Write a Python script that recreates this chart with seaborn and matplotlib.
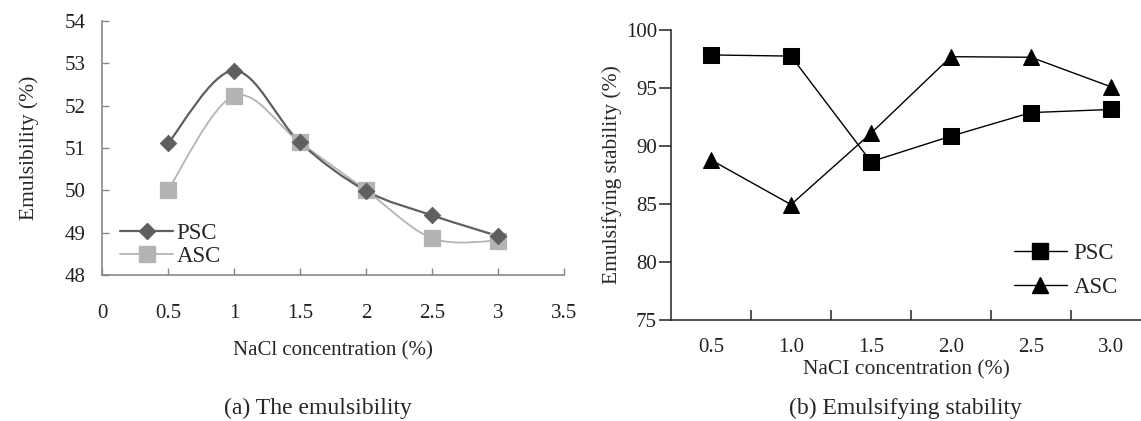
import numpy as np
import pandas as pd
import matplotlib
matplotlib.use("Agg")
import matplotlib.pyplot as plt
import seaborn as sns
from matplotlib.path import Path
from matplotlib.patches import PathPatch
from matplotlib.lines import Line2D

# data
nacl = [0.5, 1.0, 1.5, 2.0, 2.5, 3.0]
emul_psc = [51.11, 52.83, 51.13, 49.99, 49.41, 48.92]
emul_asc = [50.01, 52.23, 51.13, 50.00, 48.87, 48.81]
stab_psc = [97.85, 97.75, 88.65, 90.85, 92.88, 93.15]
stab_asc = [88.80, 84.95, 91.10, 97.70, 97.65, 95.10]
left_xticks = [0, 0.5, 1, 1.5, 2, 2.5, 3, 3.5]
left_xlabels = ["0", "0.5", "1", "1.5", "2", "2.5", "3", "3.5"]
right_xlabels = ["0.5", "1.0", "1.5", "2.0", "2.5", "3.0"]

sns.set_style("white")
plt.rcParams["font.family"] = ["Liberation Serif", "DejaVu Serif"]


def smooth_path(xs, ys):
    # excel-like smoothed line: cubic bezier through each point
    p = np.column_stack([xs, ys])
    n = len(p)
    verts = [p[0]]
    codes = [Path.MOVETO]
    for i in range(n - 1):
        p0 = p[i - 1] if i > 0 else p[i]
        p3 = p[i + 2] if i + 2 < n else p[i + 1]
        c1 = p[i] + (p[i + 1] - p0) / 6.0
        c2 = p[i + 1] - (p3 - p[i]) / 6.0
        verts += [c1, c2, p[i + 1]]
        codes += [Path.CURVE4] * 3
    return Path(verts, codes)


fig = plt.figure(figsize=(11.41, 4.21), dpi=100)

# ---- (a) emulsibility
ax1 = fig.add_axes([102 / 1141, 146 / 421, 462 / 1141, 254 / 421])
c_psc, c_asc = "#5f5f5f", "#b4b4b4"
ax1.add_patch(PathPatch(smooth_path(nacl, emul_asc), fill=False, ec=c_asc, lw=1.3, zorder=2))
ax1.add_patch(PathPatch(smooth_path(nacl, emul_psc), fill=False, ec=c_psc, lw=1.6, zorder=3))
sns.scatterplot(x=nacl, y=emul_asc, ax=ax1, marker="s", s=130, color=c_asc, edgecolor=c_asc, zorder=4)
sns.scatterplot(x=nacl, y=emul_psc, ax=ax1, marker="D", s=70, color=c_psc, edgecolor=c_psc, zorder=5)
ax1.set_xlim(0, 3.5)
ax1.set_ylim(48, 54)
ax1.set_xticks(left_xticks)
ax1.set_xticklabels(left_xlabels)
ax1.set_yticks(range(48, 55))
sns.despine(ax=ax1)
for s in ["left", "bottom"]:
    ax1.spines[s].set_color("#878787")
    ax1.spines[s].set_linewidth(1.2)
ax1.tick_params(axis="both", direction="in", length=5, width=1, color="#878787",
                labelsize=15, labelcolor="#222222", bottom=True, left=True)
ax1.tick_params(axis="x", pad=21)
ax1.tick_params(axis="y", pad=12)
ax1.set_xlabel("NaCl concentration (%)", fontsize=15, labelpad=13)
ax1.set_ylabel("Emulsibility (%)", fontsize=15.5, labelpad=18)
h1 = [Line2D([], [], color=c_psc, lw=1.6, marker="D", ms=8, label="PSC"),
      Line2D([], [], color=c_asc, lw=1.3, marker="s", ms=11, label="ASC")]
ax1.legend(handles=h1, loc="lower left", bbox_to_anchor=(0.02, -0.005), frameon=False,
           fontsize=16.5, handlelength=2.3, handletextpad=0.15, labelspacing=0.1, borderaxespad=0)

# ---- (b) emulsifying stability
df = pd.DataFrame({
    "nacl": nacl * 2,
    "stab": stab_psc + stab_asc,
    "sample": ["PSC"] * len(nacl) + ["ASC"] * len(nacl),
})
ax2 = fig.add_axes([671 / 1141, 101 / 421, 470 / 1141, 290 / 421])
sns.lineplot(data=df, x="nacl", y="stab", hue="sample", style="sample", ax=ax2,
             palette={"PSC": "black", "ASC": "black"}, markers={"PSC": "s", "ASC": "^"},
             dashes=False, lw=1, markersize=11, markeredgecolor="black", legend=False)
ax2.set_xlim(0.25, 0.25 + 5.875 * 0.5)
ax2.set_ylim(75, 100)
ax2.set_xticks([0.75, 1.25, 1.75, 2.25, 2.75])
ax2.set_xticklabels([])
ax2.set_xticks(nacl, minor=True)
ax2.set_xticklabels(right_xlabels, minor=True)
ax2.set_yticks(range(75, 101, 5))
sns.despine(ax=ax2)
for s in ["left", "bottom"]:
    ax2.spines[s].set_color("#222222")
    ax2.spines[s].set_linewidth(1.1)
ax2.tick_params(axis="x", which="major", direction="in", length=7, width=1.1, color="#222222",
                bottom=True)
ax2.tick_params(axis="x", which="minor", length=0, pad=13, labelsize=15, labelcolor="#222222")
ax2.tick_params(axis="y", direction="out", length=9, width=1.1, color="#222222",
                labelsize=15, labelcolor="#222222", pad=1, left=True)
ax2.set_xlabel("NaCI concentration (%)", fontsize=15.5, labelpad=2)
ax2.set_ylabel("Emulsifying stability (%)", fontsize=15.5, labelpad=3)
h2 = [Line2D([], [], color="black", lw=1, marker="s", ms=11, label="PSC"),
      Line2D([], [], color="black", lw=1, marker="^", ms=12, label="ASC")]
ax2.legend(handles=h2, loc="lower right", bbox_to_anchor=(0.97, 0.045), frameon=False,
           fontsize=16.5, handlelength=2.3, handletextpad=0.3, labelspacing=0.55, borderaxespad=0)

fig.text(318 / 1141, 1 - 408 / 421, "(a) The emulsibility", ha="center", va="center", fontsize=17)
fig.text(905 / 1141, 1 - 408 / 421, "(b) Emulsifying stability", ha="center", va="center", fontsize=17)

fig.savefig("out.png", dpi=100)
